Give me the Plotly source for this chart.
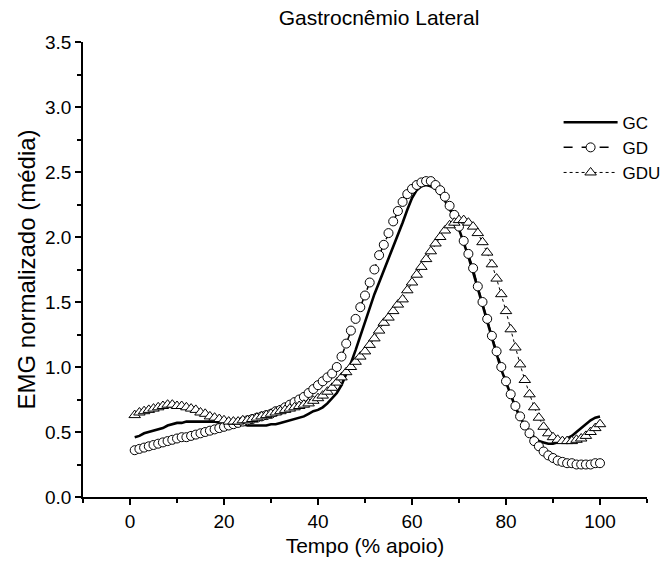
import plotly.graph_objects as go

x_vals = list(range(1, 101))

gc_vals = [0.46, 0.47, 0.49, 0.50, 0.51, 0.52, 0.53, 0.55, 0.56, 0.57,
           0.57, 0.58, 0.58, 0.58, 0.58, 0.58, 0.58, 0.58, 0.57, 0.57,
           0.57, 0.56, 0.56, 0.56, 0.55, 0.55, 0.55, 0.55, 0.55, 0.56,
           0.56, 0.57, 0.58, 0.59, 0.60, 0.61, 0.62, 0.64, 0.66, 0.67,
           0.69, 0.72, 0.76, 0.80, 0.86, 0.94, 1.03, 1.13, 1.24, 1.35,
           1.46, 1.56, 1.65, 1.74, 1.83, 1.92, 2.01, 2.11, 2.21, 2.30,
           2.36, 2.39, 2.40, 2.39, 2.37, 2.33, 2.28, 2.22, 2.15, 2.06,
           1.96, 1.85, 1.73, 1.60, 1.48, 1.35, 1.22, 1.10, 0.98, 0.88,
           0.78, 0.69, 0.61, 0.55, 0.50, 0.46, 0.43, 0.42, 0.41, 0.41,
           0.42, 0.43, 0.45, 0.47, 0.50, 0.53, 0.56, 0.59, 0.61, 0.62]

gd_vals = [0.36, 0.37, 0.38, 0.39, 0.40, 0.41, 0.42, 0.43, 0.44, 0.45,
           0.46, 0.46, 0.47, 0.48, 0.49, 0.50, 0.51, 0.52, 0.53, 0.54,
           0.55, 0.56, 0.57, 0.58, 0.59, 0.60, 0.61, 0.62, 0.63, 0.64,
           0.66, 0.67, 0.69, 0.71, 0.73, 0.75, 0.77, 0.80, 0.83, 0.86,
           0.89, 0.92, 0.95, 1.00, 1.08, 1.18, 1.28, 1.37, 1.46, 1.55,
           1.65, 1.75, 1.86, 1.94, 2.03, 2.12, 2.20, 2.27, 2.33, 2.37,
           2.40, 2.42, 2.43, 2.43, 2.40, 2.36, 2.31, 2.24, 2.17, 2.08,
           1.97, 1.87, 1.76, 1.62, 1.50, 1.37, 1.24, 1.12, 1.00, 0.89,
           0.79, 0.70, 0.62, 0.55, 0.49, 0.43, 0.39, 0.35, 0.32, 0.30,
           0.28, 0.27, 0.26, 0.26, 0.25, 0.25, 0.25, 0.25, 0.26, 0.26]

gdu_vals = [0.63, 0.65, 0.66, 0.67, 0.68, 0.69, 0.70, 0.71, 0.71, 0.70,
            0.70, 0.69, 0.68, 0.67, 0.65, 0.64, 0.62, 0.61, 0.60, 0.59,
            0.58, 0.58, 0.58, 0.59, 0.59, 0.60, 0.61, 0.62, 0.63, 0.64,
            0.65, 0.66, 0.67, 0.68, 0.69, 0.70, 0.71, 0.72, 0.74, 0.76,
            0.78, 0.81, 0.84, 0.88, 0.92, 0.96, 1.00, 1.04, 1.08, 1.12,
            1.17, 1.22, 1.28, 1.34, 1.38, 1.43, 1.48, 1.52, 1.59, 1.65,
            1.71, 1.77, 1.83, 1.89, 1.95, 2.00, 2.05, 2.09, 2.11, 2.13,
            2.13, 2.11, 2.08, 2.03, 1.96, 1.88, 1.79, 1.68, 1.56, 1.43,
            1.29, 1.15, 1.02, 0.90, 0.79, 0.69, 0.61, 0.54, 0.49, 0.46,
            0.44, 0.43, 0.43, 0.43, 0.44, 0.45, 0.47, 0.50, 0.53, 0.56]

series_names = ["GC", "GD", "GDU"]
title_text = "Gastrocnêmio Lateral"
x_title = "Tempo (% apoio)"
y_title = "EMG normalizado (média)"

FONT = "Liberation Sans, Arial, sans-serif"

fig = go.Figure()
fig.add_trace(go.Scatter(
    x=x_vals, y=gc_vals, name=series_names[0], mode="lines",
    line=dict(color="black", width=2.6),
))
fig.add_trace(go.Scatter(
    x=x_vals, y=gd_vals, name=series_names[1], mode="lines+markers",
    line=dict(color="black", width=1.5, dash="dash"),
    marker=dict(symbol="circle", size=9, color="white",
                line=dict(color="black", width=1)),
))
fig.add_trace(go.Scatter(
    x=x_vals, y=gdu_vals, name=series_names[2], mode="lines+markers",
    line=dict(color="black", width=1, dash="dot"),
    marker=dict(symbol="triangle-up", size=10, color="white",
                line=dict(color="black", width=1)),
))

fig.update_layout(
    width=665, height=566,
    margin=dict(l=83, r=18, t=42, b=69, autoexpand=False),
    paper_bgcolor="white", plot_bgcolor="white",
    font=dict(family=FONT, color="black", size=19),
    title=dict(text=title_text, x=0.57, xref="container", xanchor="center",
               y=0.968, yref="container", yanchor="middle",
               font=dict(size=21, family=FONT, color="black")),
    showlegend=True,
    legend=dict(x=0.840, y=0.815, xref="container", yref="container",
                xanchor="left", yanchor="top",
                bgcolor="rgba(0,0,0,0)", font=dict(size=17, family=FONT),
                tracegroupgap=0, itemwidth=54),
)
fig.update_xaxes(
    range=[-10, 110], tickmode="linear", tick0=0, dtick=20,
    showline=True, linecolor="black", linewidth=1.5, mirror=False,
    showgrid=False, zeroline=False,
    ticks="outside", ticklen=6, tickwidth=1.5, tickcolor="black",
    minor=dict(ticks="outside", dtick=10, tick0=0, ticklen=4,
               tickwidth=1.5, tickcolor="black", showgrid=False),
    tickfont=dict(size=19, family=FONT),
    title=dict(text=x_title, font=dict(size=21, family=FONT), standoff=8),
)
fig.update_yaxes(
    range=[0, 3.5], tickmode="linear", tick0=0, dtick=0.5, tickformat=".1f",
    showline=True, linecolor="black", linewidth=1.5, mirror=False,
    showgrid=False, zeroline=False,
    ticks="outside", ticklen=6, tickwidth=1.5, tickcolor="black",
    minor=dict(ticks="outside", dtick=0.25, tick0=0, ticklen=4,
               tickwidth=1.5, tickcolor="black", showgrid=False),
    tickfont=dict(size=19, family=FONT),
    title=dict(text=y_title, font=dict(size=24, family=FONT), standoff=3),
)

fig.write_html("out.html")
